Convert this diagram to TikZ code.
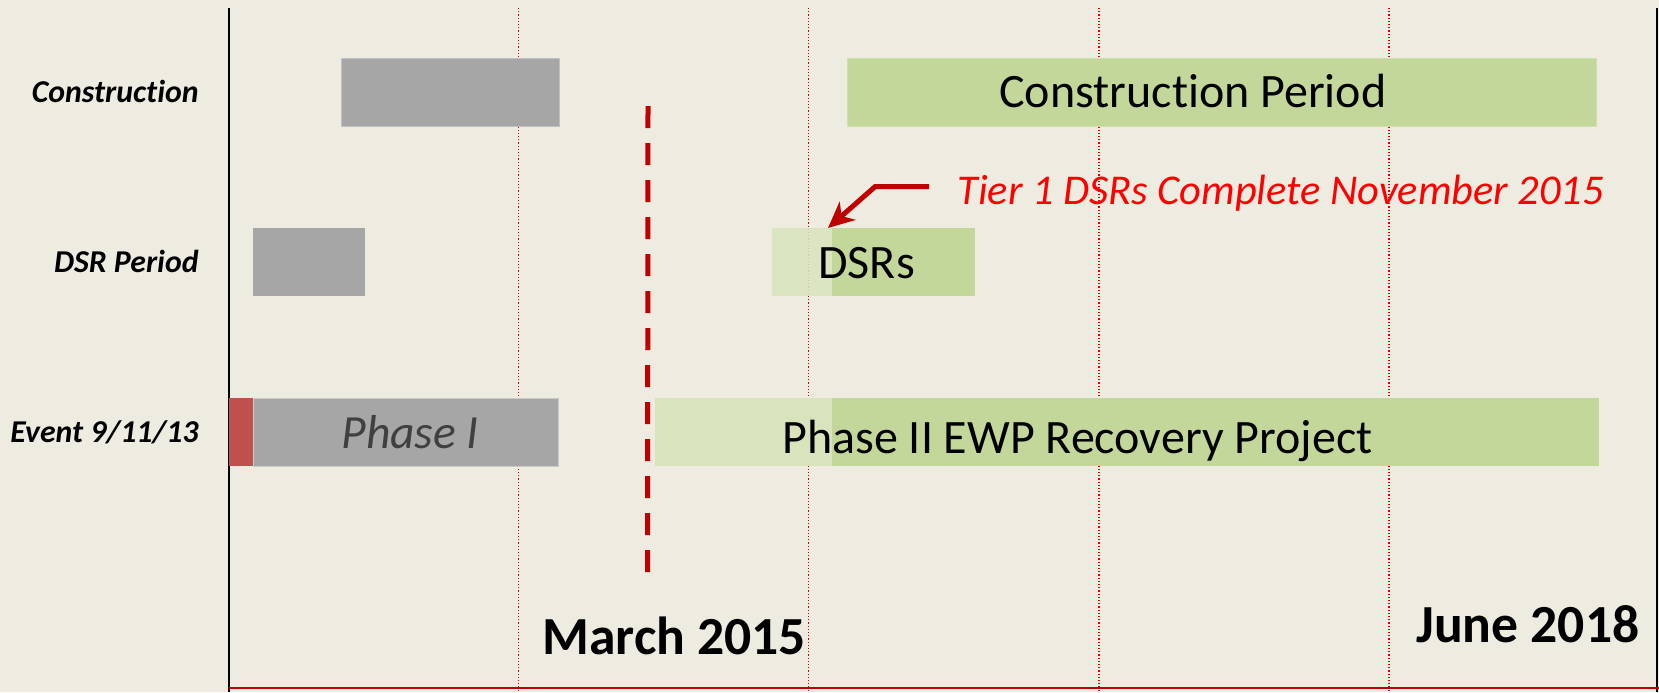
\documentclass[tikz,border=0pt]{standalone}
\usepackage{fontspec}
\setmainfont{Carlito}[Ligatures=NoCommon]
\usetikzlibrary{arrows.meta}
\definecolor{bgc}{HTML}{EEEBE0}
\definecolor{greybar}{HTML}{A6A6A6}
\definecolor{greenbar}{HTML}{C4D79B}
\definecolor{lightgreen}{HTML}{D8E4BC}
\definecolor{eventred}{HTML}{C0504D}
\definecolor{darkred}{HTML}{C00000}
\definecolor{phasegrey}{HTML}{404040}
\tikzset{
  gridline/.style={red!85!black, line width=0.6pt, densely dotted},
  barshape/.style={line width=0.5pt},
  rowlabel/.style={anchor=base east, inner sep=0pt, font=\fontsize{15.9}{18}\selectfont\bfseries\itshape},
  bartext/.style={anchor=base west, inner sep=0pt, font=\fontsize{24}{28}\selectfont},
  datetext/.style={anchor=base west, inner sep=0pt, font=\fontsize{26.8}{30}\selectfont\bfseries},
  milestone/.style={darkred, line width=2.5pt, dash pattern=on 11pt off 7.5pt},
  callout/.style={darkred, line width=2.5pt, -{Stealth[length=13pt, width=12pt, inset=4pt]}}
}
\begin{document}
\begin{tikzpicture}[x=0.5pt, y=-0.5pt]
\useasboundingbox (0,0) rectangle (1659,692);
\fill[bgc] (0,0) rectangle (1659,692);

% grid lines
\foreach \gx in {518.5, 808.5, 1099, 1389} {
  \draw[gridline] (\gx,8) -- (\gx,692);
}

% axes
\draw[black, line width=1pt] (228.5,8) -- (228.5,692);
\draw[black, line width=1pt] (1657,8) -- (1657,692);
\draw[darkred, line width=0.9pt] (228.5,688) -- (1659,688);

% Construction row
\path[barshape, fill=greybar, draw=greybar!70!white] (341,58) rectangle (559,126);
\path[barshape, fill=greenbar, draw=greenbar!80!white] (847.5,58) rectangle (1596.5,126);

% DSR row
\path[barshape, fill=greybar] (253,227.5) rectangle (365,296);
\path[fill=greenbar] (832,227.5) rectangle (974.5,296);
\path[fill=lightgreen, fill opacity=0.85] (772,227.5) rectangle (832,296);

% Event row
\path[fill=eventred] (228.5,398) rectangle (253,466);
\path[barshape, fill=greybar, draw=greybar!60!white] (253,398) rectangle (558.5,466);
\path[fill=lightgreen] (655,398) rectangle (832,466);
\path[fill=greenbar] (832,398) rectangle (1598.5,466);

% row labels
\node[rowlabel] (lblcon) at (199,102) {Construction};
\node[rowlabel] (lbldsr) at (199,272) {DSR Period};
\node[rowlabel] (lblevt) at (199,442) {Event 9/11/13};

% bar texts
\node[bartext] (cptext) at (999,107) {Construction Period};
\node[bartext] (dsrstext) at (818,278) {DSRs};
\node[bartext, font=\fontsize{23.8}{28}\selectfont\itshape, text=phasegrey] (p1text) at (341,448) {Phase I};
\node[bartext] (p2text) at (782,453) {Phase II EWP Recovery Project};

% milestone dashed line
\coordinate (mtop) at (648,106);
\coordinate (mbot) at (647.5,576);
\draw[milestone] (mtop) -- (mbot);

% callout
\node[anchor=base west, inner sep=0pt, text=red, font=\fontsize{21.2}{25}\selectfont\itshape] (tier) at (957,204) {Tier 1 DSRs Complete November 2015};
\coordinate (arrowstart) at (929,186.7);
\coordinate (arrowbend) at (875,186.7);
\coordinate (dsrtip) at (828,228);
\draw[callout] (arrowstart) -- (arrowbend) -- (dsrtip);

% dates
\node[datetext] (march) at (542,654) {March 2015};
\node[datetext] (june) at (1416,642) {June 2018};
\end{tikzpicture}
\end{document}
